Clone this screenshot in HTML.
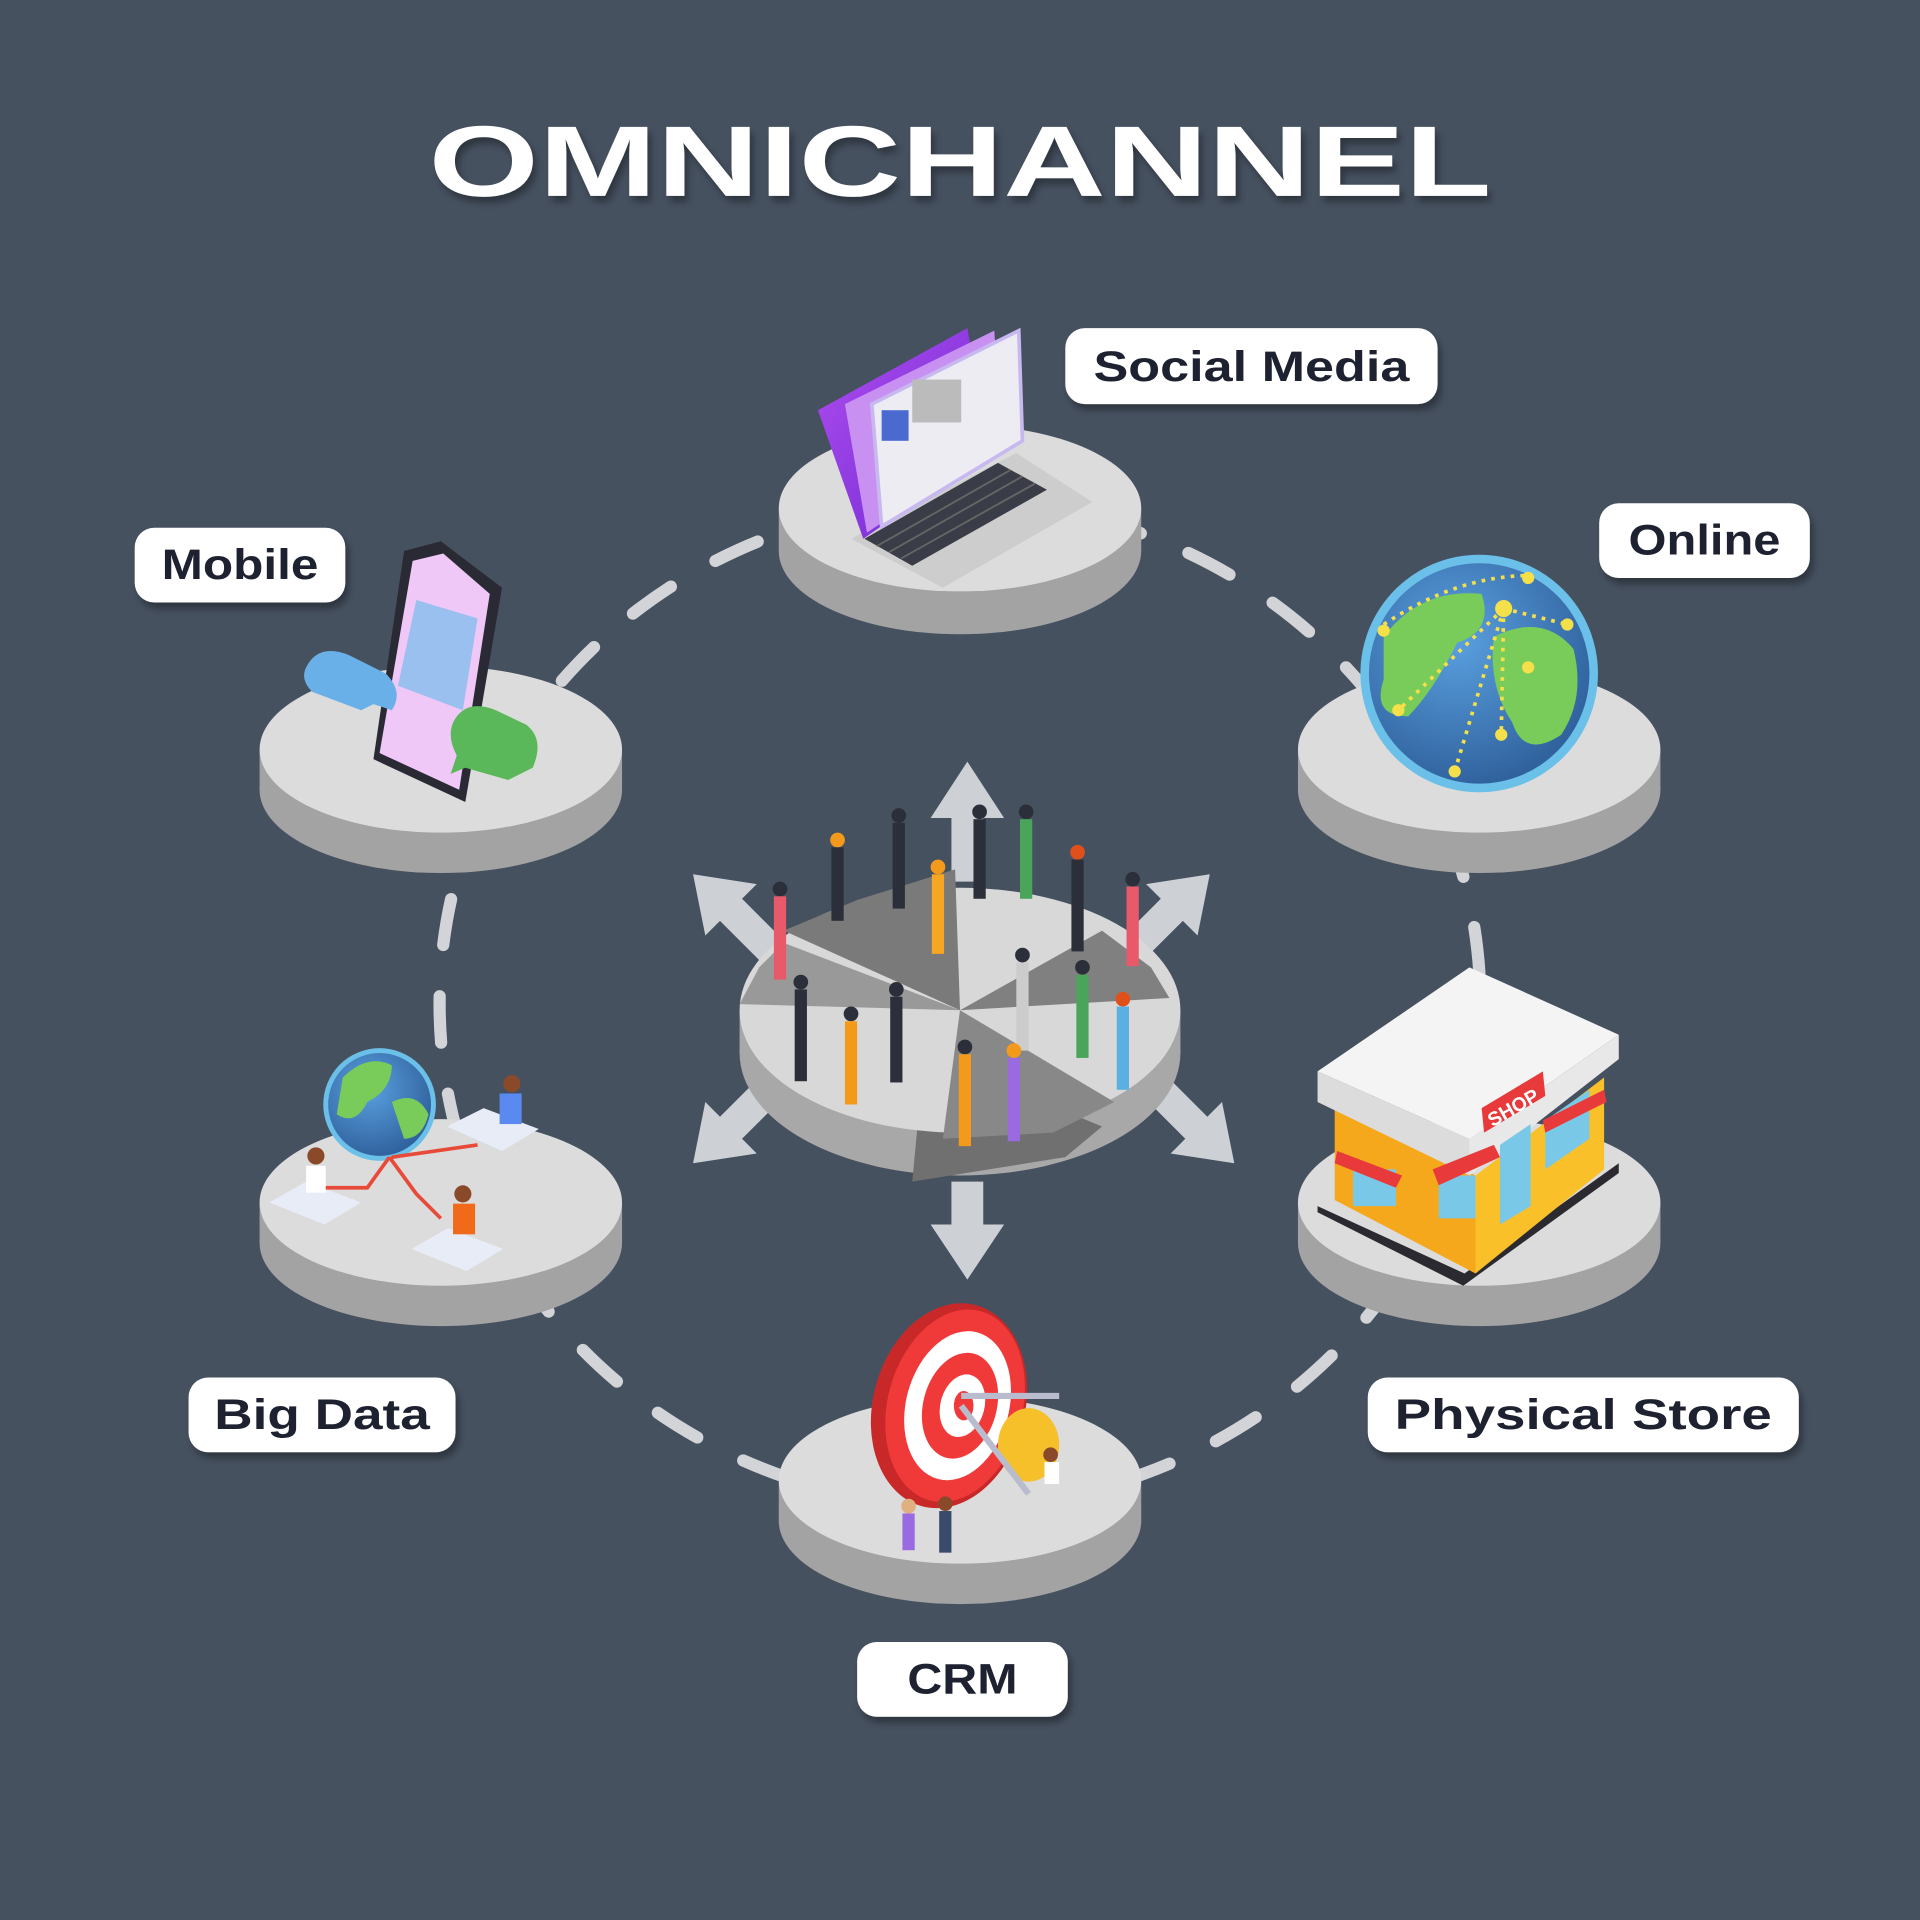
<!DOCTYPE html>
<html><head><meta charset="utf-8"><style>
html,body{margin:0;padding:0;background:#465160;}
svg{display:block}
</style></head><body>
<svg width="1920" height="1920" viewBox="0 0 1568 1568" xmlns="http://www.w3.org/2000/svg">
<defs>
<filter id="sh" x="-20%" y="-20%" width="140%" height="160%"><feDropShadow dx="3" dy="5" stdDeviation="3" flood-color="#000" flood-opacity="0.35"/></filter>
<radialGradient id="gl" cx="40%" cy="35%" r="70%"><stop offset="0" stop-color="#5aa0e0"/><stop offset="1" stop-color="#2e5f9a"/></radialGradient>
<linearGradient id="scr" x1="0" y1="0" x2="1" y2="1"><stop offset="0" stop-color="#b04cf0"/><stop offset="1" stop-color="#6a2ad0"/></linearGradient>
</defs>
<rect width="1568" height="1568" fill="#465160"/>
<text x="784" y="160" text-anchor="middle" font-family="Liberation Sans, sans-serif" font-weight="bold" font-size="82" fill="#fff" textLength="868" lengthAdjust="spacingAndGlyphs" filter="url(#sh)">OMNICHANNEL</text>

<ellipse cx="784" cy="820" rx="425" ry="410" fill="none" stroke="#d2d4d8" stroke-width="10" stroke-linecap="round" stroke-dasharray="38 42"/>

<g id="plats">
<g><ellipse cx="784" cy="450" rx="148" ry="68" fill="#a3a3a3"/><rect x="636" y="415" width="296" height="35" fill="#a3a3a3"/><ellipse cx="784" cy="415" rx="148" ry="68" fill="#dcdcdc"/></g>
<g><ellipse cx="360" cy="645" rx="148" ry="68" fill="#a3a3a3"/><rect x="212" y="612" width="296" height="33" fill="#a3a3a3"/><ellipse cx="360" cy="612" rx="148" ry="68" fill="#dcdcdc"/></g>
<g><ellipse cx="1208" cy="645" rx="148" ry="68" fill="#a3a3a3"/><rect x="1060" y="612" width="296" height="33" fill="#a3a3a3"/><ellipse cx="1208" cy="612" rx="148" ry="68" fill="#dcdcdc"/></g>
<g><ellipse cx="360" cy="1015" rx="148" ry="68" fill="#a3a3a3"/><rect x="212" y="982" width="296" height="33" fill="#a3a3a3"/><ellipse cx="360" cy="982" rx="148" ry="68" fill="#dcdcdc"/></g>
<g><ellipse cx="1208" cy="1015" rx="148" ry="68" fill="#a3a3a3"/><rect x="1060" y="982" width="296" height="33" fill="#a3a3a3"/><ellipse cx="1208" cy="982" rx="148" ry="68" fill="#dcdcdc"/></g>
<g><ellipse cx="784" cy="1242" rx="148" ry="68" fill="#a3a3a3"/><rect x="636" y="1209" width="296" height="33" fill="#a3a3a3"/><ellipse cx="784" cy="1209" rx="148" ry="68" fill="#dcdcdc"/></g>
</g>

<g fill="#cdd1d6">
<polygon points="790,622 820,668 803,668 803,720 777,720 777,668 760,668"/>
<polygon points="790,1045 820,1000 803,1000 803,965 777,965 777,1000 760,1000"/>
<polygon points="566,714 618,722 606,734 640,768 622,786 588,752 576,764"/>
<polygon points="988,714 936,722 948,734 914,768 932,786 966,752 978,764"/>
<polygon points="566,950 618,942 606,930 640,896 622,878 588,912 576,900"/>
<polygon points="1008,950 956,942 968,930 934,896 952,878 986,912 998,900"/>
</g>
<ellipse cx="784" cy="860" rx="180" ry="100" fill="#a8a8a8"/>
<rect x="604" y="825" width="360" height="35" fill="#a8a8a8"/>
<polygon points="745,965 755,860 900,920 870,945" fill="#707070"/>
<ellipse cx="784" cy="825" rx="180" ry="100" fill="#d8d8d8"/>
<polygon points="784,825 640,760 700,735 780,710" fill="#7a7a7a"/>
<polygon points="784,825 900,760 940,790 955,815" fill="#808080"/>
<polygon points="784,825 770,930 860,925 910,900" fill="#888"/>
<polygon points="784,825 604,820 620,790 640,770" fill="#999"/>
<g fill="#2b2f3a">
<circle cx="684" cy="686" r="6" fill="#f39a1c"/><rect x="679" y="692" width="10" height="60"/>
<circle cx="734" cy="666" r="6"/><rect x="729" y="672" width="10" height="70"/>
<circle cx="766" cy="708" r="6" fill="#f39a1c"/><rect x="761" y="714" width="10" height="65" fill="#f5a623"/>
<circle cx="800" cy="663" r="6"/><rect x="795" y="669" width="10" height="65"/>
<circle cx="838" cy="663" r="6"/><rect x="833" y="669" width="10" height="65" fill="#4aa55a"/>
<circle cx="880" cy="696" r="6" fill="#e0501a"/><rect x="875" y="702" width="10" height="75"/>
<circle cx="925" cy="718" r="6"/><rect x="920" y="724" width="10" height="65" fill="#e85a6a"/>
<circle cx="637" cy="726" r="6"/><rect x="632" y="732" width="10" height="68" fill="#e85a6a"/>
<circle cx="654" cy="802" r="6"/><rect x="649" y="808" width="10" height="75"/>
<circle cx="695" cy="828" r="6"/><rect x="690" y="834" width="10" height="68" fill="#f39a1c"/>
<circle cx="732" cy="808" r="6"/><rect x="727" y="814" width="10" height="70"/>
<circle cx="835" cy="780" r="6"/><rect x="830" y="786" width="10" height="72" fill="#ccc"/>
<circle cx="884" cy="790" r="6"/><rect x="879" y="796" width="10" height="68" fill="#4aa55a"/>
<circle cx="917" cy="816" r="6" fill="#e0501a"/><rect x="912" y="822" width="10" height="68" fill="#5ab0e0"/>
<circle cx="788" cy="855" r="6"/><rect x="783" y="861" width="10" height="75" fill="#f39a1c"/>
<circle cx="828" cy="858" r="6" fill="#f39a1c"/><rect x="823" y="864" width="10" height="68" fill="#9a6ae0"/>
</g>

<polygon points="695,440 830,370 892,410 770,480" fill="#cdcdcd"/>
<polygon points="706,440 815,378 855,400 745,462" fill="#3a3d48"/>
<g stroke="#666" stroke-width="1.5"><line x1="716" y1="446" x2="825" y2="384"/><line x1="726" y1="451" x2="835" y2="389"/><line x1="736" y1="456" x2="845" y2="395"/></g>
<polygon points="668,335 790,268 808,368 705,440" fill="url(#scr)"/>
<polygon points="690,330 812,270 818,362 708,435" fill="#c890f0"/>
<polygon points="712,330 832,270 835,360 720,430" fill="#ececf2" stroke="#c8b8f0" stroke-width="3"/>
<rect x="745" y="310" width="40" height="35" fill="#bbb"/>
<rect x="720" y="335" width="22" height="25" fill="#4a6ad0"/>

<polygon points="330,450 360,442 410,480 380,655 305,620" fill="#2a2a35"/>
<polygon points="337,458 362,452 400,485 375,645 310,615" fill="#f0c8f8"/>
<polygon points="340,490 390,505 378,580 325,560" fill="#9ac0f0"/>
<path d="M250 545 q10-20 35-10 l30 15 q15 15 5 30 l-15 -5 -10 5 -40-15 q-10-10-5-20z" fill="#6ab0e8"/>
<path d="M370 590 q10-20 35-10 l25 12 q15 12 5 35 l-20 10 -35-10 -12 5 5-15 q-8-15-3-27z" fill="#5ab85a"/>

<circle cx="1208" cy="550" r="97" fill="#6ac0e8"/>
<circle cx="1208" cy="550" r="90" fill="url(#gl)"/>
<path d="M1130 520 q30-40 80-35 q10 30 -20 40 q-20 40-40 60 q-30 0-20-30z" fill="#7acc5a"/>
<path d="M1220 520 q40-20 65 10 q10 40-10 70 q-30 20-40-10 q-20-30-15-70z" fill="#7acc5a"/>
<path d="M1130 510 Q1190 470 1250 470 M1228 497 L1188 630 M1228 497 L1280 510 M1228 497 L1142 580 M1228 497 L1226 600" stroke="#f5e04a" stroke-width="3" stroke-dasharray="3 5" fill="none"/>
<g fill="#f5e04a"><circle cx="1228" cy="497" r="7"/><circle cx="1188" cy="630" r="5"/><circle cx="1280" cy="510" r="5"/><circle cx="1142" cy="580" r="5"/><circle cx="1226" cy="600" r="5"/><circle cx="1248" cy="545" r="5"/><circle cx="1130" cy="515" r="5"/><circle cx="1248" cy="472" r="5"/></g>

<polygon points="1076,990 1195,1050 1322,958 1322,950 1196,1040 1076,985" fill="#2a2a30"/>
<polygon points="1090,900 1205,960 1205,1040 1090,980" fill="#f6a81c"/>
<polygon points="1205,960 1310,880 1310,955 1205,1040" fill="#f9c02a"/>
<polygon points="1076,875 1200,790 1322,845 1200,930" fill="#f4f4f4"/>
<polygon points="1076,875 1200,930 1200,960 1076,900" fill="#dcdcdc"/>
<polygon points="1200,930 1322,845 1322,865 1200,960" fill="#e8e8e8"/>
<rect x="1105" y="955" width="35" height="30" fill="#7ac8e8"/>
<rect x="1175" y="960" width="30" height="35" fill="#7ac8e8"/>
<polygon points="1225,935 1250,918 1250,985 1225,1000" fill="#7ac8e8"/>
<polygon points="1262,915 1298,890 1298,930 1262,955" fill="#7ac8e8"/>
<polygon points="1210,905 1260,875 1262,895 1212,925" fill="#e83a3a"/>
<text x="1236" y="910" font-family="Liberation Sans, sans-serif" font-weight="bold" font-size="16" fill="#fff" text-anchor="middle" transform="rotate(-30 1236 905)">SHOP</text>
<polygon points="1092,940 1145,960 1140,970 1090,950" fill="#e83a3a"/>
<polygon points="1170,955 1220,935 1225,945 1175,968" fill="#e83a3a"/>
<polygon points="1260,915 1310,890 1312,900 1262,925" fill="#e83a3a"/>

<circle cx="310" cy="902" r="46" fill="#6ac0e8"/><circle cx="310" cy="902" r="42" fill="url(#gl)"/>
<path d="M280 880 q20-20 40-10 q0 20-20 30 q-10 20-25 10z M320 900 q20-10 30 10 q-5 20-20 20z" fill="#7acc5a"/>
<g fill="#e8ecf6"><polygon points="220,982 250,965 295,982 265,1000"/><polygon points="365,920 395,905 440,922 410,940"/><polygon points="336,1020 366,1003 411,1020 381,1038"/></g>
<path d="M318 945 L300 970 L260 970 M318 945 L340 975 L360 995 M320 945 L390 935" stroke="#e84a3a" stroke-width="3" fill="none"/>
<circle cx="258" cy="944" r="7" fill="#8a4a2a"/><rect x="250" y="952" width="16" height="22" fill="#fff"/>
<circle cx="418" cy="885" r="7" fill="#8a4a2a"/><rect x="408" y="893" width="18" height="25" fill="#5a8af0"/>
<circle cx="378" cy="975" r="7" fill="#8a4a2a"/><rect x="370" y="983" width="18" height="25" fill="#f06a1a"/>

<ellipse cx="775" cy="1148" rx="62" ry="85" fill="#c82828" transform="rotate(15 775 1148)"/>
<ellipse cx="780" cy="1148" rx="55" ry="80" fill="#f03a3a" transform="rotate(15 780 1148)"/>
<ellipse cx="782" cy="1148" rx="42" ry="62" fill="#fff" transform="rotate(15 782 1148)"/>
<ellipse cx="784" cy="1148" rx="30" ry="44" fill="#f03a3a" transform="rotate(15 784 1148)"/>
<ellipse cx="786" cy="1148" rx="18" ry="26" fill="#fff" transform="rotate(15 786 1148)"/>
<ellipse cx="787" cy="1148" rx="8" ry="12" fill="#f03a3a"/>
<ellipse cx="840" cy="1180" rx="25" ry="30" fill="#f5c02a"/>
<path d="M785 1140 L865 1140 M785 1148 L840 1220" stroke="#b8bccc" stroke-width="5"/>
<circle cx="742" cy="1230" r="6" fill="#e0b080"/><rect x="737" y="1236" width="10" height="30" fill="#9a6ae0"/>
<circle cx="772" cy="1228" r="6" fill="#8a4a2a"/><rect x="767" y="1234" width="10" height="34" fill="#3a4a6a"/>
<circle cx="858" cy="1188" r="6" fill="#8a4a2a"/><rect x="853" y="1194" width="12" height="18" fill="#fff"/>

<g font-family="Liberation Sans, sans-serif" font-weight="bold" font-size="35" fill="#1e2130" text-anchor="middle">
<rect x="870" y="268" width="304" height="62" rx="16" fill="#fff" filter="url(#sh)"/><text x="1022" y="311" textLength="258" lengthAdjust="spacingAndGlyphs">Social Media</text>
<rect x="1306" y="411" width="172" height="61" rx="16" fill="#fff" filter="url(#sh)"/><text x="1392" y="453" textLength="124" lengthAdjust="spacingAndGlyphs">Online</text>
<rect x="110" y="431" width="172" height="61" rx="16" fill="#fff" filter="url(#sh)"/><text x="196" y="473" textLength="128" lengthAdjust="spacingAndGlyphs">Mobile</text>
<rect x="154" y="1125" width="218" height="61" rx="16" fill="#fff" filter="url(#sh)"/><text x="263" y="1167" textLength="176" lengthAdjust="spacingAndGlyphs">Big Data</text>
<rect x="1117" y="1125" width="352" height="61" rx="16" fill="#fff" filter="url(#sh)"/><text x="1293" y="1167" textLength="308" lengthAdjust="spacingAndGlyphs">Physical Store</text>
<rect x="700" y="1341" width="172" height="61" rx="16" fill="#fff" filter="url(#sh)"/><text x="786" y="1383" textLength="90" lengthAdjust="spacingAndGlyphs">CRM</text>
</g>
</svg>
</body></html>
